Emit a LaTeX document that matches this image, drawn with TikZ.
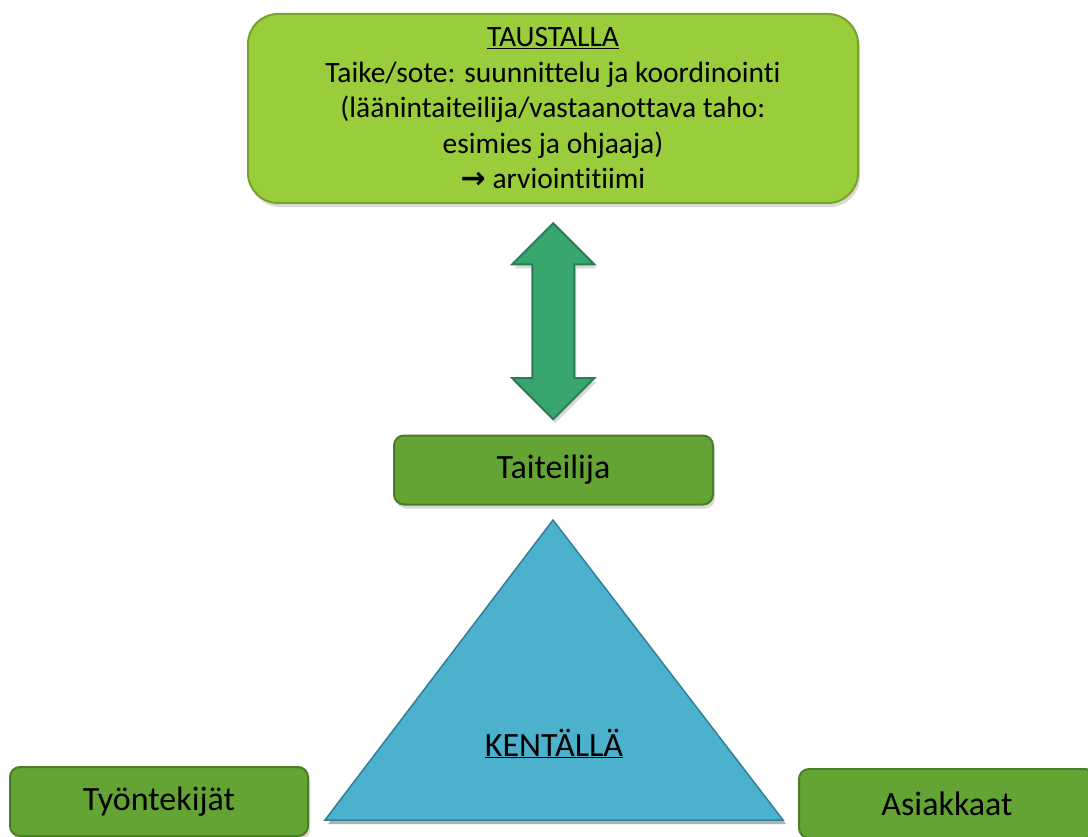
\documentclass[tikz,border=0pt]{standalone}
\usepackage{fontspec}
\setmainfont[Ligatures=NoCommon]{Carlito}
\newfontfamily\arrowfont{DejaVu Sans}
\usepackage{xcolor}
\usepackage{tikz}
\usetikzlibrary{calc}
\usetikzlibrary{shapes.arrows}
\usetikzlibrary{shadows}

\definecolor{taustafill}{RGB}{154,205,59}
\definecolor{taustaedge}{RGB}{118,164,40}
\definecolor{rolefill}{RGB}{99,164,52}
\definecolor{roleedge}{RGB}{74,125,38}
\definecolor{linkfill}{RGB}{56,165,111}
\definecolor{linkedge}{RGB}{42,124,82}
\definecolor{fieldfill}{RGB}{75,177,205}
\definecolor{fieldedge}{RGB}{49,128,152}

\begin{document}
\begin{tikzpicture}[x=1pt, y=-1pt,
    softshadow/.style={drop shadow={opacity=0.3, shadow xshift=2pt, shadow yshift=-4pt}},
    topbox/.style={draw=taustaedge, line width=2pt, fill=taustafill, rounded corners=30pt,
        minimum width=610pt, minimum height=189pt, align=center,
        font=\fontsize{29.5}{35.5}\selectfont, softshadow},
    rolebox/.style={draw=roleedge, line width=2pt, fill=rolefill, rounded corners=10pt,
        minimum height=69pt, font=\fontsize{34}{40}\selectfont, softshadow},
    linkarrow/.style={double arrow, shape border rotate=90, draw=linkedge, line width=2pt,
        fill=linkfill, inner sep=20pt, minimum width=80pt, double arrow head extend=20pt,
        double arrow head indent=0pt, softshadow}]
    \useasboundingbox (0,0) rectangle (1088,837);
    \clip (0,0) rectangle (1088,837);

    \node[topbox] (taustalla) at (553,108.5) {\underline{TAUSTALLA}\\
        Taike/sote: suunnittelu ja koordinointi\\
        (läänintaiteilija/vastaanottava taho:\\
        esimies ja ohjaaja)\\
        {\arrowfont\bfseries\fontsize{30}{30}\selectfont →} arviointitiimi};
    \node[rolebox, minimum width=319pt] (taiteilija) at (553.5,470) {Taiteilija};

    % kaksisuuntainen nuoli
    \node[linkarrow, minimum height=196pt] (link) at ($(taustalla.south)!0.5!(taiteilija.north)+(0,2)$) {};

    % kenttä
    \fill[black, opacity=0.3] (555,524) -- (328,824) -- (786,824) -- cycle;
    \draw[fieldedge, line width=1.5pt, fill=fieldfill, line join=miter] (553,520) -- (325,820) -- (783,820) -- cycle;
    \node[anchor=base, font=\fontsize{34}{40}\selectfont] (kentalla) at (554,756) {\underline{KENTÄLLÄ}};

    \node[rolebox, minimum width=298pt] (tyontekijat) at (159,801.5) {Työntekijät};
    \node[rolebox, minimum width=296pt] (asiakkaat) at (947,803.5) {Asiakkaat};
\end{tikzpicture}
\end{document}
